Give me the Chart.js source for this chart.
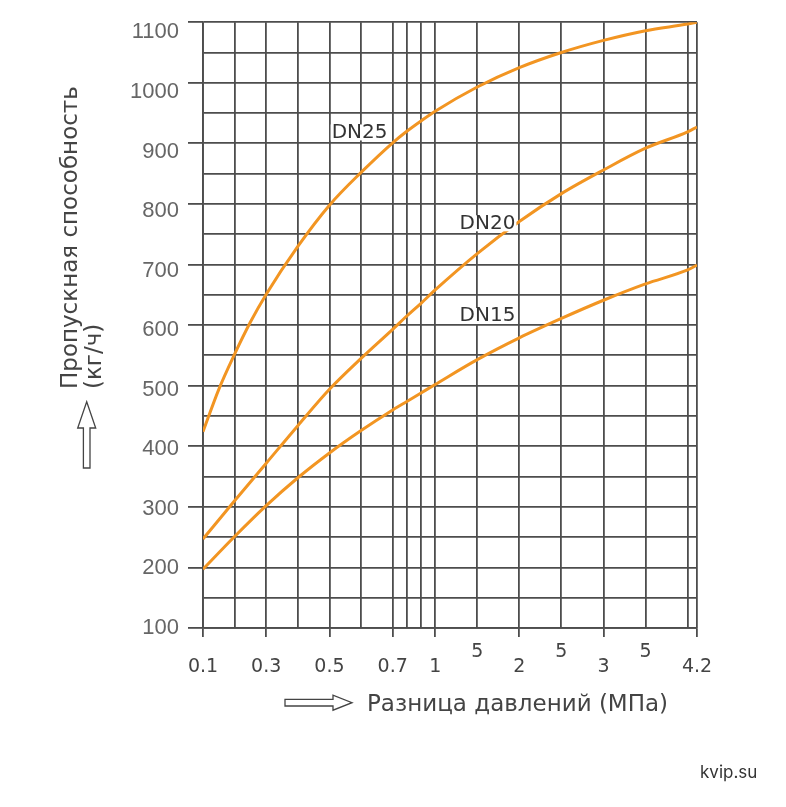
<!DOCTYPE html>
<html>
<head>
<meta charset="utf-8">
<script src="https://cdn.jsdelivr.net/npm/chart.js@4.4.0/dist/chart.umd.min.js"></script>
<style>
  html, body { margin: 0; padding: 0; background: #fff; }
  #wrap { width: 786px; height: 807px; }
</style>
</head>
<body>
<div id="wrap"><canvas id="chart"></canvas></div>
<script>
// Readings taken off the curves (pressure difference in MPa -> capacity kg/h)
const xDN25 = [0.1, 0.15, 0.2, 0.25, 0.3, 0.4, 0.5, 0.6, 0.7, 0.8, 0.9, 1, 1.5, 2, 2.5, 3, 3.5, 4, 4.2];
const dn25  = [424, 494, 552, 605, 651, 730, 798, 852, 901, 920, 937, 953, 993, 1025, 1050, 1070, 1086, 1097, 1100];

const xOther = [0.1, 0.2, 0.3, 0.4, 0.5, 0.6, 0.7, 0.8, 0.9, 1, 1.5, 2, 2.5, 3, 3.5, 4, 4.2];
const dn20   = [247, 310, 372, 434, 494, 545, 593, 615, 636, 658, 718, 771, 817, 856, 892, 919, 927];
const dn15   = [197, 251, 302, 348, 389, 426, 460, 474, 488, 502, 543, 579, 611, 641, 668, 691, 699];

// x grid lines and their labels ("5" = the half steps 1.5, 2.5, 3.5)
const xGrid       = [0.1, 0.2, 0.3, 0.4, 0.5, 0.6, 0.7, 0.8, 0.9, 1, 1.5, 2, 2.5, 3, 3.5, 4, 4.2];
const xTickLabels = ['0.1', '', '0.3', '', '0.5', '', '0.7', '', '', '1', '5', '2', '5', '3', '5', '', '4.2'];
// y labels (grid every 50)
const yTickLabels = [100, 200, 300, 400, 500, 600, 700, 800, 900, 1000, 1100];

const curveLabels = [
  { text: 'DN25', x: 0.507, y: 918 },
  { text: 'DN20', x: 1.29, y: 768 },
  { text: 'DN15', x: 1.29, y: 615 }
];

const ORANGE = '#f29522';
const GRID = '#4d4d4d';

// the printed axis is not uniform: 0.1..0.7 wide, 0.7..1 squeezed, 1..4.2 wide again
const axisBreaks = [[0.1, 0], [0.7, 0.384], [1, 0.47], [4, 0.981], [4.2, 1]];

class StretchScale extends Chart.LinearScale {
  static id = 'stretch';
  static defaults = Chart.LinearScale.defaults;

  buildTicks() {
    return xGrid.map(v => ({ value: v }));
  }
  toDecimal(value) {
    for (let i = 1; i < axisBreaks.length; i++) {
      const a = axisBreaks[i - 1], b = axisBreaks[i];
      if (value <= b[0] || i === axisBreaks.length - 1) {
        return a[1] + (value - a[0]) / (b[0] - a[0]) * (b[1] - a[1]);
      }
    }
    return 0;
  }
  getPixelForValue(value) {
    if (value === null || isNaN(value)) return NaN;
    return this.getPixelForDecimal(this.toDecimal(value));
  }
  getValueForPixel(pixel) {
    const d = this.getDecimalForPixel(pixel);
    for (let i = 1; i < axisBreaks.length; i++) {
      const a = axisBreaks[i - 1], b = axisBreaks[i];
      if (d <= b[1] || i === axisBreaks.length - 1) {
        return a[0] + (d - a[1]) / (b[1] - a[1]) * (b[0] - a[0]);
      }
    }
    return 0;
  }
}
Chart.register(StretchScale);

function outlineArrow(ctx, pts) {
  ctx.beginPath();
  pts.forEach(([x, y], i) => (i ? ctx.lineTo(x, y) : ctx.moveTo(x, y)));
  ctx.closePath();
  ctx.fillStyle = '#fff';
  ctx.fill();
  ctx.strokeStyle = '#444';
  ctx.lineWidth = 1.3;
  ctx.stroke();
}

// titles, arrows, curve names and the site mark
const decorations = {
  id: 'decorations',
  afterDraw(chart) {
    const ctx = chart.ctx;
    const xs = chart.scales.x, ys = chart.scales.y;
    ctx.save();

    ctx.font = '20px "DejaVu Sans"';
    ctx.textBaseline = 'middle';
    ctx.textAlign = 'left';
    curveLabels.forEach(l => {
      const px = xs.getPixelForValue(l.x);
      const py = ys.getPixelForValue(l.y);
      const w = ctx.measureText(l.text).width;
      ctx.fillStyle = '#fff';
      ctx.fillRect(px - 1, py - 8, w + 2, 16);
      ctx.fillStyle = '#333';
      ctx.fillText(l.text, px, py);
    });

    // x title
    ctx.fillStyle = '#444';
    ctx.font = '23px "DejaVu Sans"';
    ctx.fillText('Разница давлений (МПа)', 367, 705);
    outlineArrow(ctx, [[285, 699.4], [333, 699.4], [333, 695.2], [352, 702.7],
      [333, 710.2], [333, 706], [285, 706]]);

    // y title
    ctx.save();
    ctx.translate(71, 389);
    ctx.rotate(-Math.PI / 2);
    ctx.fillStyle = '#444';
    ctx.fillText('Пропускная способность', 0, 0);
    ctx.fillText('(кг/ч)', 0, 24);
    ctx.restore();
    outlineArrow(ctx, [[86.7, 401.7], [95.7, 428], [90, 428], [90, 468],
      [83.4, 468], [83.4, 428], [77.7, 428]]);

    ctx.fillStyle = '#333';
    ctx.font = '17px Inter';
    ctx.fillText('kvip.su', 700, 773);
    ctx.restore();
  }
};

new Chart(document.getElementById('chart'), {
  type: 'line',
  data: {
    datasets: [
      { label: 'DN25', data: xDN25.map((x, i) => ({ x, y: dn25[i] })), borderColor: ORANGE },
      { label: 'DN20', data: xOther.map((x, i) => ({ x, y: dn20[i] })), borderColor: ORANGE },
      { label: 'DN15', data: xOther.map((x, i) => ({ x, y: dn15[i] })), borderColor: ORANGE }
    ]
  },
  options: {
    responsive: true,
    maintainAspectRatio: false,
    animation: false,
    layout: { padding: { top: 22, right: 89, left: 0, bottom: 0 } },
    elements: {
      line: { borderWidth: 3, cubicInterpolationMode: 'monotone', fill: false },
      point: { radius: 0 }
    },
    plugins: { legend: { display: false }, tooltip: { enabled: false } },
    scales: {
      x: {
        type: 'stretch',
        min: 0.1,
        max: 4.2,
        afterFit: s => { s.height = 179; },
        border: { color: GRID, width: 1.8 },
        grid: {
          color: GRID,
          lineWidth: 1.8,
          tickLength: 9,
          tickColor: c => {
            const lab = xTickLabels[c.index];
            return lab && lab !== '5' ? GRID : 'rgba(0,0,0,0)';
          }
        },
        ticks: {
          autoSkip: false,
          maxRotation: 0,
          minRotation: 0,
          padding: 8,
          color: '#444',
          font: { family: 'DejaVu Sans', size: 19, lineHeight: '15px' },
          callback: (v, i) => {
            const lab = xTickLabels[i] || '';
            return lab === '5' ? [lab, ''] : ['', lab];
          }
        }
      },
      // grid + tick marks
      y: {
        min: 100,
        max: 1100,
        weight: 0,
        afterFit: s => { s.width = 15; },
        border: { color: GRID, width: 1.8 },
        grid: {
          color: GRID,
          lineWidth: 1.8,
          tickLength: 15,
          tickColor: c => (yTickLabels.includes(c.tick.value) ? GRID : 'rgba(0,0,0,0)')
        },
        ticks: { stepSize: 50, display: false }
      },
      // the printed numbers sit on a slightly tighter spacing than the grid
      yLabels: {
        position: 'left',
        min: 100,
        max: 1117,
        weight: 1,
        afterFit: s => { s.width = 188; },
        border: { display: false },
        grid: { display: false, drawTicks: false },
        ticks: {
          stepSize: 100,
          includeBounds: false,
          padding: 9,
          color: '#666',
          font: { family: 'Liberation Sans', size: 22 },
          callback: v => (yTickLabels.includes(v) ? String(v) : '')
        }
      }
    }
  },
  plugins: [decorations]
});
</script>
</body>
</html>
